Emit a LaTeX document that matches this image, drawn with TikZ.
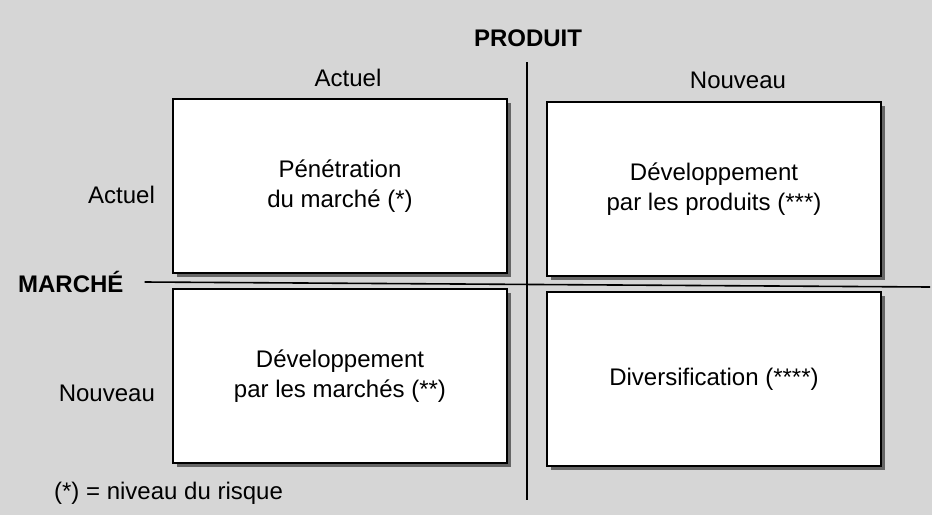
\documentclass[tikz,border=0pt]{standalone}
\usepackage{fontspec}
\setmainfont{Liberation Sans}
\usetikzlibrary{positioning,shadows}
\definecolor{paper}{RGB}{214,214,214}

\begin{document}
\begin{tikzpicture}[x=1pt, y=-1pt, line width=1.6pt,
    every node/.style={font=\fontsize{24}{30}\selectfont},
    cell/.style={rectangle, draw, fill=white, minimum width=334pt, minimum height=174pt,
        align=center, inner sep=0pt,
        drop shadow={shadow xshift=4pt, shadow yshift=-4pt, fill=black!60, opacity=1}},
    axis/.style={font=\fontsize{24}{30}\selectfont\bfseries}]
    \fill[paper] (0,0) rectangle (932,515);
    \useasboundingbox (0,0) rectangle (932,515);

    % the four strategies
    \node[cell] (pen) at (340,186) {P\'en\'etration\\du march\'e (*)};
    \node[cell] (devp) at (714,189) {D\'eveloppement\\par les produits (***)};
    \node[cell] (devm) at (340,376) {D\'eveloppement\\par les march\'es (**)};
    \node[cell] (div) at (714,379) {Diversification (****)};

    % axes and their labels
    \node[axis] (prod) at (528,38) {PRODUIT};
    \node[axis, anchor=west] (mar) at (14,282) {MARCH\'E};
    \coordinate (vtop) at (527,62);
    \coordinate (vbot) at (527,500);
    \coordinate (hend) at (930,287);
    \draw (vtop) -- (vbot);
    \draw (mar.east) ++(17pt,0) coordinate (hstart) (hstart) -- (hend);

    \node (cact) at (348,78) {Actuel};
    \node (cnew) at (738,80) {Nouveau};
    \node[anchor=east] (ract) at (159,195) {Actuel};
    \node[anchor=east] (rnew) at (159,393) {Nouveau};

    \node[anchor=west] (leg) at (50,493) {(*) = niveau du risque};
\end{tikzpicture}
\end{document}
